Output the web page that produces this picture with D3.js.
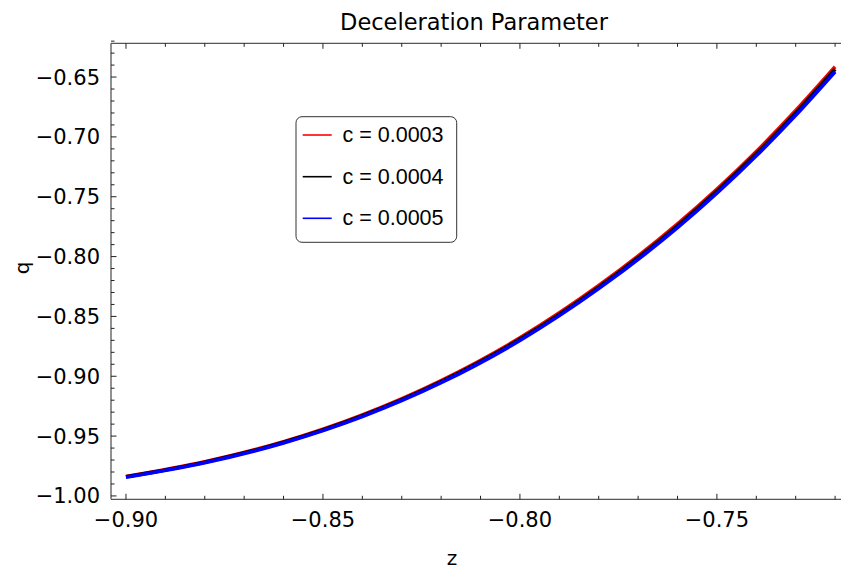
<!DOCTYPE html>
<html><head><meta charset="utf-8">
<script src="https://cdn.jsdelivr.net/npm/d3@7"></script>
<style>body{margin:0;background:#fff}svg{display:block}</style>
</head><body>
<svg id="c" width="841" height="571"></svg>
<script>
const zValues = [-0.90, -0.88, -0.86, -0.84, -0.82, -0.80, -0.78, -0.76, -0.74, -0.73, -0.72];
const qRed   = [-0.9837, -0.9714, -0.9547, -0.9323, -0.9036, -0.8679, -0.8242, -0.7727, -0.7122, -0.6780, -0.6414];
const qBlack = [-0.9840, -0.9718, -0.9552, -0.9330, -0.9045, -0.8690, -0.8255, -0.7743, -0.7140, -0.6800, -0.6435];
const qBlue  = [-0.9843, -0.9722, -0.9557, -0.9337, -0.9054, -0.8701, -0.8268, -0.7759, -0.7158, -0.6820, -0.6456];
const seriesNames = ["c = 0.0003", "c = 0.0004", "c = 0.0005"];
const seriesColors = ["#ff0000", "#000000", "#0000ff"];
const xTicks = [-0.90, -0.85, -0.80, -0.75];
const yTicks = [-1.00, -0.95, -0.90, -0.85, -0.80, -0.75, -0.70, -0.65];
const titleText = "Deceleration Parameter";
const xLabel = "z", yLabel = "q";

const svg = d3.select("#c");
const L = 111, R = 841, T = 43.3, B = 499.3;
const x = d3.scaleLinear().domain([-0.9038, -0.7185]).range([L, R]);
const y = d3.scaleLinear().domain([-1.0028, -0.6218]).range([B, T]);

const frameColor = "#555";
const fmt = v => (v < 0 ? "\u2212" : "") + Math.abs(v).toFixed(2);

const xMinor = d3.range(-0.90, -0.7149, 0.01).map(v => +v.toFixed(2));
const yMinor = d3.range(-1.00, -0.6199, 0.01).map(v => +v.toFixed(2));

const g = svg.append("g");
g.append("line").attr("x1", L).attr("x2", R).attr("y1", B).attr("y2", B).attr("stroke", frameColor).attr("stroke-width", 1.3);
g.append("line").attr("x1", L).attr("x2", R).attr("y1", T).attr("y2", T).attr("stroke", frameColor).attr("stroke-width", 1.3);
g.append("line").attr("x1", L).attr("x2", L).attr("y1", T).attr("y2", B).attr("stroke", frameColor).attr("stroke-width", 1.3);

const isMajor = (v, arr) => arr.some(t => Math.abs(t - v) < 1e-6);
xMinor.forEach(v => {
  const len = isMajor(v, xTicks) ? 5.5 : 3.5;
  g.append("line").attr("x1", x(v)).attr("x2", x(v)).attr("y1", B).attr("y2", B - len).attr("stroke", "#222").attr("stroke-width", 1);
  g.append("line").attr("x1", x(v)).attr("x2", x(v)).attr("y1", T).attr("y2", T + len).attr("stroke", "#222").attr("stroke-width", 1);
});
yMinor.forEach(v => {
  const len = isMajor(v, yTicks) ? 5.5 : 3.5;
  g.append("line").attr("x1", L).attr("x2", L + len).attr("y1", y(v)).attr("y2", y(v)).attr("stroke", "#222").attr("stroke-width", 1);
});

const tickFont = "'DejaVu Sans', sans-serif";
xTicks.forEach(v => {
  g.append("text").attr("x", x(v)).attr("y", B + 28).attr("text-anchor", "middle")
    .attr("font-family", tickFont).attr("font-size", 21).attr("fill", "#000").text(fmt(v));
});
yTicks.forEach(v => {
  g.append("text").attr("x", L - 11).attr("y", y(v) + 7.5).attr("text-anchor", "end")
    .attr("font-family", tickFont).attr("font-size", 21).attr("fill", "#000").text(fmt(v));
});

svg.append("text").attr("x", 474).attr("y", 30).attr("text-anchor", "middle")
  .attr("font-family", tickFont).attr("font-size", 22.5).text(titleText);
svg.append("text").attr("x", 452).attr("y", 565).attr("text-anchor", "middle")
  .attr("font-family", tickFont).attr("font-size", 20).text(xLabel);
svg.append("text").attr("transform", "translate(29,268) rotate(-90)").attr("text-anchor", "middle")
  .attr("font-family", tickFont).attr("font-size", 20).text(yLabel);

const line = d3.line().x(d => x(d[0])).y(d => y(d[1])).curve(d3.curveMonotoneX);
[qRed, qBlack, qBlue].forEach((qs, i) => {
  svg.append("path").datum(zValues.map((z, j) => [z, qs[j]]))
    .attr("d", line).attr("fill", "none").attr("stroke", seriesColors[i]).attr("stroke-width", 3.6);
});

const lg = svg.append("g");
lg.append("rect").attr("x", 296).attr("y", 116.7).attr("width", 160.7).attr("height", 125.6)
  .attr("rx", 6).attr("ry", 6).attr("fill", "#fff").attr("stroke", "#333").attr("stroke-width", 1);
const rows = [135, 176.7, 218.3];
seriesNames.forEach((name, i) => {
  lg.append("line").attr("x1", 302.7).attr("x2", 331.7).attr("y1", rows[i]).attr("y2", rows[i])
    .attr("stroke", seriesColors[i]).attr("stroke-width", 1.6);
  lg.append("text").attr("x", 342.5).attr("y", rows[i] + 7).attr("font-family", "'Liberation Sans', Arial, sans-serif")
    .attr("font-size", 21.5).attr("fill", "#000").text(name);
});
</script>
</body></html>
